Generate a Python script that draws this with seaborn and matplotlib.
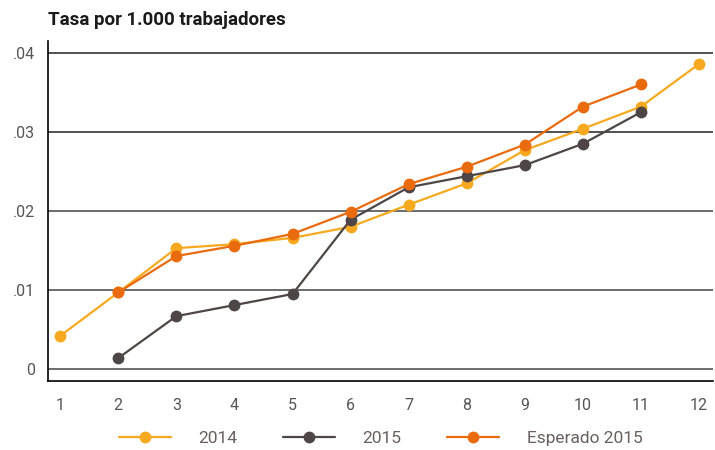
import numpy as np
import pandas as pd
import matplotlib
matplotlib.use("Agg")
import matplotlib.pyplot as plt
import seaborn as sns

# values
meses = list(range(1, 13))
tasa_2014 = [.0042, .0097, .0153, .0158, .0166, .0180, .0208, .0235, .0277, .0304, .0332, .0386]
tasa_2015 = [np.nan, .0014, .0067, .0081, .0095, .0189, .0230, .0244, .0258, .0285, .0325, np.nan]
tasa_esperado = [np.nan, .0097, .0143, .0156, .0171, .0199, .0234, .0256, .0284, .0332, .0360, np.nan]
series_names = ["2014", "2015", "Esperado 2015"]
colors = ["#F6A91E", "#4E4646", "#EA6A0E"]
y_ticks = [0, .01, .02, .03, .04]
y_labels = ["0", ".01", ".02", ".03", ".04"]

df = pd.DataFrame({"mes": meses, "2014": tasa_2014, "2015": tasa_2015,
                   "Esperado 2015": tasa_esperado})
long = df.melt(id_vars="mes", var_name="serie", value_name="tasa").dropna()

sns.set_style("white")
plt.rcParams["font.family"] = ["Roboto", "DejaVu Sans"]

fig = plt.figure(figsize=(7.15, 4.5), dpi=100)
ax = fig.add_axes([48 / 715, 69 / 450, 665 / 715, 340 / 450])

for y in y_ticks:
    ax.axhline(y, color="#222222" if y >= .03 else "#444444", lw=1.1, zorder=1)

sns.lineplot(data=long, x="mes", y="tasa", hue="serie", hue_order=series_names,
             palette=colors, marker="o", markersize=8.5, markeredgewidth=0,
             linewidth=1.6, ax=ax, zorder=3)

ax.set_xlim(0.79, 12.24)
ax.set_ylim(-.0015, .0415)
ax.set_xticks(meses)
ax.set_xticklabels([str(m) for m in meses])
ax.set_yticks(y_ticks)
ax.set_yticklabels(y_labels)
ax.set_xlabel("")
ax.set_ylabel("")

for side in ["top", "right"]:
    ax.spines[side].set_visible(False)
for side in ["left", "bottom"]:
    ax.spines[side].set_color("black")
    ax.spines[side].set_linewidth(1.2)

ax.tick_params(axis="both", which="both", direction="out", length=6, width=1,
               color="#333333", labelcolor="#555555", labelsize=11.5)
ax.tick_params(axis="x", pad=6)
ax.tick_params(axis="y", pad=3)

fig.text(48 / 715, 1 - 20 / 450, "Tasa por 1.000 trabajadores", fontsize=13.5,
         fontweight="bold", color="#1a1a1a", ha="left", va="center")

handles, labels = ax.get_legend_handles_labels()
ax.legend(handles, labels, loc="center", bbox_to_anchor=(0.5, -0.168),
          ncol=3, frameon=False, fontsize=12.5, labelcolor="#6a5f5f",
          handlelength=3.0, columnspacing=2.6, handletextpad=1.6)

fig.savefig("out.png", dpi=100)
